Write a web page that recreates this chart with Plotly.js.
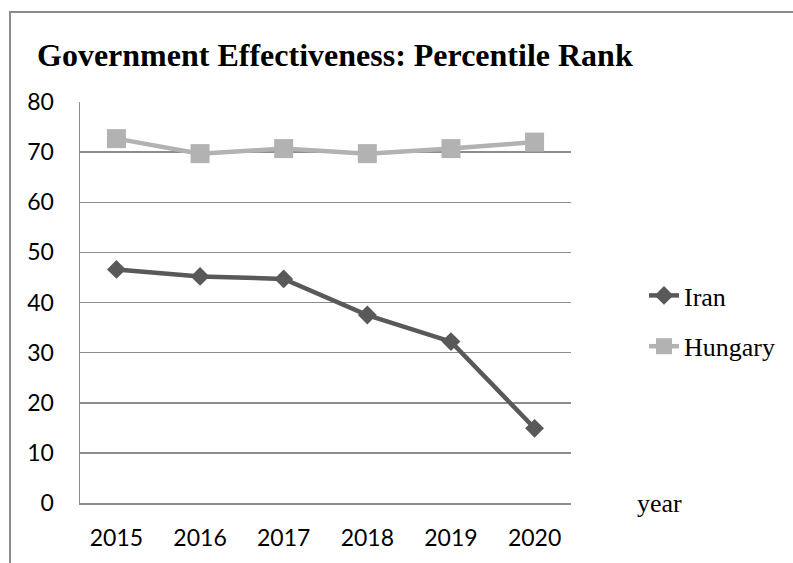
<!DOCTYPE html>
<html>
<head>
<meta charset="utf-8">
<script src="https://cdn.plot.ly/plotly-3.0.1.min.js"></script>
<style>
  html, body { margin: 0; padding: 0; background: #fff; overflow: hidden; }
  #wrap { position: relative; width: 793px; height: 563px; }
  #chart { position: absolute; left: 0; top: 0; width: 793px; height: 563px; }
  #frame { position: absolute; left: 9px; top: 11px; width: 900px; height: 700px;
           border-left: 2px solid #8c8c8c; border-top: 2px solid #8c8c8c; pointer-events: none; }
</style>
</head>
<body>
<div id="wrap">
  <div id="chart"></div>
  <div id="frame"></div>
</div>
<script>
const years = ["2015", "2016", "2017", "2018", "2019", "2020"];
const iran = [46.6, 45.2, 44.7, 37.5, 32.2, 14.9];
const hungary = [72.7, 69.7, 70.7, 69.7, 70.7, 72.0];
const yTicks = [0, 10, 20, 30, 40, 50, 60, 70, 80];

const traces = [
  {
    x: years, y: iran, name: "Iran", type: "scatter", mode: "lines+markers",
    legendgroup: "a",
    line: { color: "#595959", width: 4.5 },
    marker: { symbol: "diamond", size: 14.5, color: "#595959" }
  },
  {
    x: years, y: hungary, name: "Hungary", type: "scatter", mode: "lines+markers",
    legendgroup: "b",
    line: { color: "#b2b2b2", width: 4.5 },
    marker: { symbol: "square", size: 19, color: "#b2b2b2" }
  }
];

const layout = {
  width: 793, height: 563,
  margin: { l: 80, r: 222, t: 102, b: 60 },
  paper_bgcolor: "#ffffff", plot_bgcolor: "#ffffff",
  showlegend: true,
  title: {
    text: "<b>Government Effectiveness: Percentile Rank</b>",
    font: { family: "Liberation Serif, Times New Roman, serif", size: 32, color: "#000" },
    xref: "container", yref: "container",
    x: 37 / 793, xanchor: "left",
    y: 1 - 55 / 563, yanchor: "middle"
  },
  xaxis: {
    type: "category",
    showgrid: false,
    showline: true, linecolor: "#8c8c8c", linewidth: 1.5,
    ticks: "", ticklabelstandoff: 14,
    tickfont: { family: "Lato, Open Sans, sans-serif", size: 23, color: "#000" },
    zeroline: false, fixedrange: true
  },
  yaxis: {
    range: [0, 80],
    tickvals: yTicks,
    ticktext: yTicks.map(String),
    showgrid: true, gridcolor: "#8c8c8c", gridwidth: 1.5,
    showline: true, linecolor: "#8c8c8c", linewidth: 1.5,
    mirror: false,
    zeroline: false,
    ticks: "", ticklabelstandoff: 20,
    tickfont: { family: "Lato, Open Sans, sans-serif", size: 23, color: "#000" },
    fixedrange: true
  },
  legend: {
    x: 644 / 793, xref: "container", xanchor: "left",
    y: 1 - 272 / 563, yref: "container", yanchor: "top",
    font: { family: "Liberation Serif, Times New Roman, serif", size: 26, color: "#000" },
    bgcolor: "rgba(0,0,0,0)",
    traceorder: "grouped",
    tracegroupgap: 14,
    itemwidth: 30
  },
  annotations: [
    {
      text: "year", xref: "paper", yref: "paper",
      x: 1, y: 0, xanchor: "left", yanchor: "middle",
      xshift: 64,
      showarrow: false,
      font: { family: "Liberation Serif, Times New Roman, serif", size: 26, color: "#000" }
    }
  ]
};

Plotly.newPlot("chart", traces, layout, { displayModeBar: false, staticPlot: true });
</script>
</body>
</html>
